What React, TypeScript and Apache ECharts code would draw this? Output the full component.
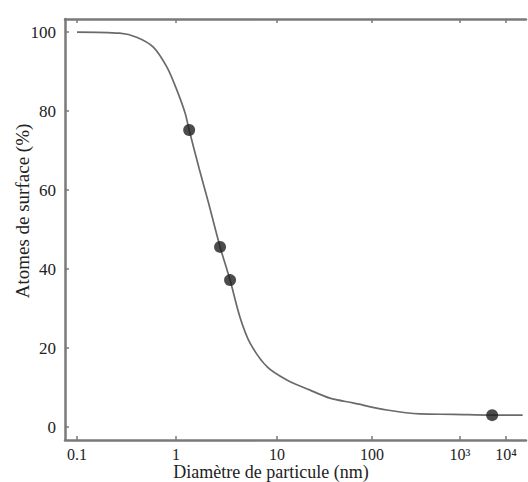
import React, { useEffect, useRef } from "react";
import * as echarts from "echarts";

// Diameter (nm) along the fitted curve, and surface-atom percentage
const curveDiameters = [0.1, 0.27, 0.4, 0.59, 0.81, 1.02, 1.23, 1.35, 1.7, 2.1, 2.73, 3.43, 4.3, 5.4, 8.0, 12.7, 22, 36, 63, 148, 351, 832, 5000, 23000];
const curvePercent = [100, 99.7, 98.7, 96.2, 91.1, 85.3, 79.5, 75.2, 65.3, 56.7, 45.6, 37.2, 27.8, 21.3, 15.2, 11.9, 9.4, 7.3, 6.1, 4.3, 3.3, 3.2, 3.0, 3.0];

// Measured points
const pointDiameters = [1.35, 2.73, 3.43, 5000];
const pointPercent = [75.2, 45.6, 37.2, 3.0];

// X axis: decades from 0.1 to 10^4 (the original figure compresses the last decades)
const tickDecades = [-1, 0, 1, 2, 3, 4];
const tickLabels = ["0.1", "1", "10", "100", "10³", "10⁴"];
const decadeWidths = [99, 101, 95, 88, 46];

const yTicks = [0, 20, 40, 60, 80, 100];

const tickU: number[] = [0];
decadeWidths.forEach((w, i) => tickU.push(tickU[i] + w));

function toAxis(d: number): number {
  const lg = Math.log10(d);
  let i = Math.floor(lg - tickDecades[0]);
  if (i < 0) i = 0;
  if (i > decadeWidths.length - 1) i = decadeWidths.length - 1;
  return tickU[i] + (lg - tickDecades[i]) * decadeWidths[i];
}

const FONT = "'Liberation Serif', 'Times New Roman', serif";

export default function App() {
  const ref = useRef<HTMLDivElement>(null);
  useEffect(() => {
    if (!ref.current) return;
    const chart = echarts.init(ref.current, null, { renderer: "svg" });
    const labelFor = (v: number) => {
      const idx = tickU.findIndex((u) => Math.abs(u - v) < 0.01);
      return idx >= 0 ? tickLabels[idx] : "";
    };
    const axisColor = "#7a7a7a";
    chart.setOption({
      animation: false,
      backgroundColor: "#ffffff",
      grid: { left: 65, right: 2, top: 19, bottom: 42 },
      xAxis: [
        {
          type: "value",
          min: -12,
          max: 449,
          axisLine: { show: true, onZero: false, lineStyle: { color: axisColor, width: 2.5 } },
          axisTick: { show: true, inside: true, length: 4, customValues: tickU, lineStyle: { color: axisColor, width: 1.5 } },
          axisLabel: { customValues: tickU, formatter: labelFor, margin: 6, fontSize: 16, lineHeight: 16, fontFamily: FONT, color: "#222" },
          splitLine: { show: false },
        },
        {
          type: "value",
          position: "top",
          min: -12,
          max: 449,
          axisLine: { show: true, onZero: false, lineStyle: { color: axisColor, width: 2.5 } },
          axisTick: { show: true, inside: true, length: 4, customValues: tickU, lineStyle: { color: axisColor, width: 1.5 } },
          axisLabel: { show: false },
          splitLine: { show: false },
        },
      ],
      yAxis: {
        type: "value",
        min: -3.29,
        max: 103.3,
        axisLine: { show: true, onZero: false, lineStyle: { color: axisColor, width: 2.5 } },
        axisTick: { show: true, inside: true, length: 4, customValues: yTicks, lineStyle: { color: axisColor, width: 1.5 } },
        axisLabel: { customValues: yTicks, margin: 9, fontSize: 17, fontFamily: FONT, color: "#222" },
        splitLine: { show: false },
      },
      graphic: [
        {
          type: "text",
          x: 271,
          y: 472,
          style: { text: "Diamètre de particule (nm)", font: `18px ${FONT}`, fill: "#222", align: "center", verticalAlign: "middle" },
        },
        {
          type: "text",
          x: 22,
          y: 211,
          rotation: Math.PI / 2,
          style: { text: "Atomes de surface (%)", font: `19px ${FONT}`, fill: "#222", align: "center", verticalAlign: "middle" },
        },
      ],
      series: [
        {
          type: "line",
          data: curveDiameters.map((d, i) => [toAxis(d), curvePercent[i]]),
          smooth: 0.3,
          showSymbol: false,
          lineStyle: { color: "#6a6a6a", width: 1.7 },
          z: 2,
        },
        {
          type: "scatter",
          data: pointDiameters.map((d, i) => [toAxis(d), pointPercent[i]]),
          symbolSize: 12,
          itemStyle: { color: "#1f1f1f" },
          z: 3,
        },
      ],
    });
    return () => chart.dispose();
  }, []);
  return <div ref={ref} style={{ position: "fixed", left: 0, top: 0, width: 528, height: 482 }} />;
}
